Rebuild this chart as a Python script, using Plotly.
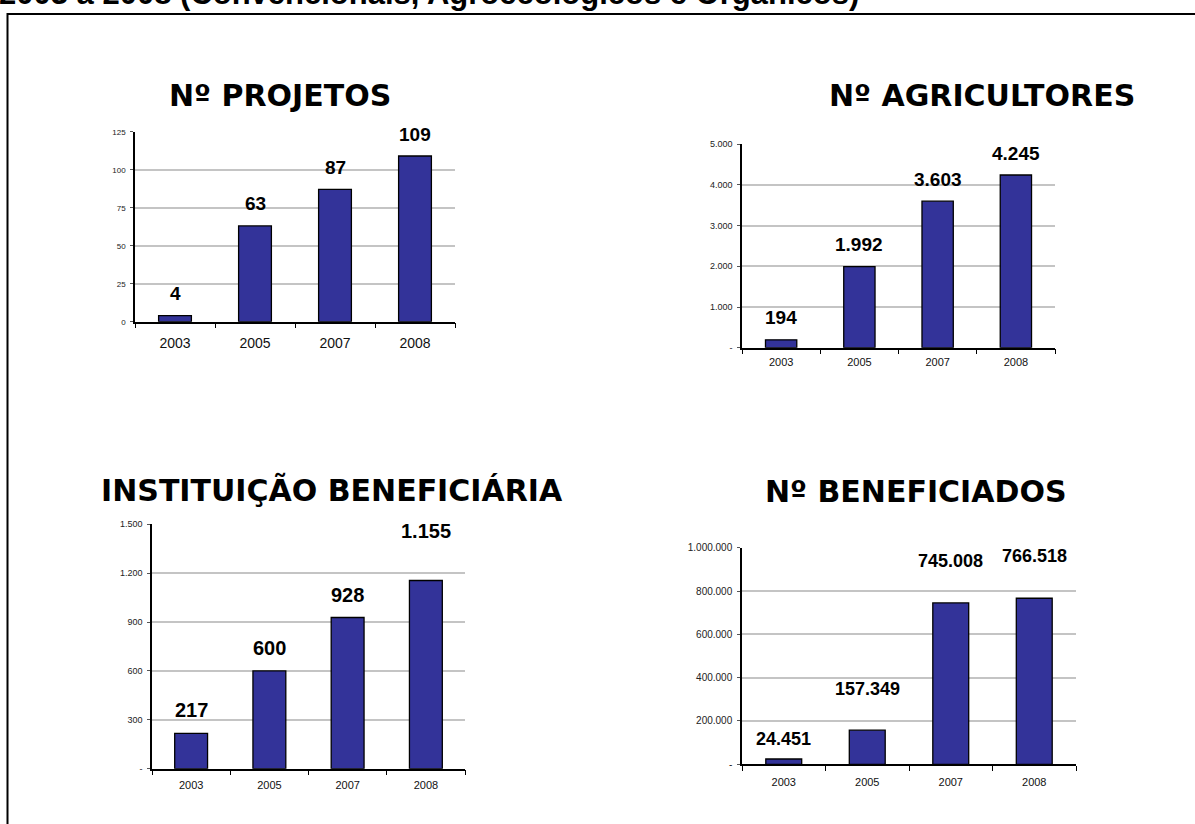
import plotly.graph_objects as go

W, H = 1195, 824

years = ["2003", "2005", "2007", "2008"]
projetos = [4, 63, 87, 109]
agricultores = [194, 1992, 3603, 4245]
instituicoes = [217, 600, 928, 1155]
beneficiados = [24451, 157349, 745008, 766518]

titles = ["Nº PROJETOS", "Nº AGRICULTORES", "INSTITUIÇÃO BENEFICIÁRIA", "Nº BENEFICIADOS"]
top_title = "2003 a 2008 (Convencionais, Agroecológicos e Orgânicos)"

yticks_proj = [0, 25, 50, 75, 100, 125]
yticktext_proj = ["0", "25", "50", "75", "100", "125"]
yticks_agri = [0, 1000, 2000, 3000, 4000, 5000]
yticktext_agri = ["-", "1.000", "2.000", "3.000", "4.000", "5.000"]
yticks_inst = [0, 300, 600, 900, 1200, 1500]
yticktext_inst = ["-", "300", "600", "900", "1.200", "1.500"]
yticks_benef = [0, 200000, 400000, 600000, 800000, 1000000]
yticktext_benef = ["-", "200.000", "400.000", "600.000", "800.000", "1.000.000"]


def fmt(v):
    return f"{v:,}".replace(",", ".")


def px(x):
    return x / W


def py(y):
    return 1 - y / H


# layout / style configuration per panel (pixel geometry of the reference)
panels = [
    dict(values=projetos, tv=yticks_proj, tt=yticktext_proj, title=titles[0],
         x0=135, x1=455, ytop=131.7, ybot=321.7, bw=0.41,
         title_x=280, title_y=95, title_size=30,
         lab_size=19, shifts=[22, 22, 22, 22], xt_size=14, yt_size=8, xt_stand=8),
    dict(values=agricultores, tv=yticks_agri, tt=yticktext_agri, title=titles[1],
         x0=742, x1=1055, ytop=144.3, ybot=347.7, bw=0.40,
         title_x=982, title_y=95, title_size=30,
         lab_size=19, shifts=[22, 22, 22, 22], xt_size=11, yt_size=9, xt_stand=3),
    dict(values=instituicoes, tv=yticks_inst, tt=yticktext_inst, title=titles[2],
         x0=152, x1=465, ytop=524.3, ybot=768.7, bw=0.42,
         title_x=332, title_y=490, title_size=30,
         lab_size=20, shifts=[23, 23, 23, 50], xt_size=11, yt_size=9, xt_stand=5),
    dict(values=beneficiados, tv=yticks_benef, tt=yticktext_benef, title=titles[3],
         x0=742, x1=1076, ytop=547.7, ybot=764.3, bw=0.43,
         title_x=916, title_y=492, title_size=30,
         lab_size=18, shifts=[20, 41, 42, 42], xt_size=11, yt_size=10, xt_stand=7),
]

fig = go.Figure()
annotations = []
layout_axes = {}

for i, p in enumerate(panels, start=1):
    xa = "x" if i == 1 else f"x{i}"
    ya = "y" if i == 1 else f"y{i}"
    fig.add_trace(go.Bar(
        x=years, y=p["values"], xaxis=xa, yaxis=ya, width=p["bw"],
        marker=dict(color="#333399", line=dict(color="black", width=1.3)),
        showlegend=False, hoverinfo="x+y",
    ))
    xkey = "xaxis" if i == 1 else f"xaxis{i}"
    ykey = "yaxis" if i == 1 else f"yaxis{i}"
    layout_axes[xkey] = dict(
        domain=[px(p["x0"]), px(p["x1"])], anchor=ya, type="category",
        range=[-0.5, len(years) - 0.5],
        showgrid=False, zeroline=False, showline=True, linecolor="black", linewidth=1.5,
        ticks="outside", tickson="boundaries", ticklen=5, tickcolor="black", tickwidth=1.2,
        tickfont=dict(family="Liberation Sans, Arial", size=p["xt_size"], color="#111"),
        ticklabelstandoff=p["xt_stand"], tickangle=0, fixedrange=True,
    )
    layout_axes[ykey] = dict(
        domain=[py(p["ybot"]), py(p["ytop"])], anchor=xa, range=[0, p["tv"][-1]],
        tickvals=p["tv"], ticktext=p["tt"],
        showgrid=True, gridcolor="#c4c4c4", gridwidth=1.5, zeroline=False,
        showline=True, linecolor="black", linewidth=1.5,
        ticks="outside", ticklen=3, tickcolor="#555", tickwidth=1,
        tickfont=dict(family="Liberation Sans, Arial", size=p["yt_size"], color="#222"),
        ticklabelstandoff=3, fixedrange=True,
    )
    for k, (v, s) in enumerate(zip(p["values"], p["shifts"])):
        annotations.append(dict(
            xref=xa, yref=ya, x=k, y=v, text=f"<b>{fmt(v)}</b>", showarrow=False,
            yanchor="middle", yshift=s,
            font=dict(family="Liberation Sans, Arial", size=p["lab_size"], color="black"),
        ))
    annotations.append(dict(
        xref="paper", yref="paper", x=px(p["title_x"]), y=py(p["title_y"]),
        text=f"<b>{p['title']}</b>", showarrow=False, xanchor="center", yanchor="middle",
        font=dict(family="DejaVu Sans, Verdana", size=p["title_size"], color="black"),
    ))

annotations.append(dict(
    xref="paper", yref="paper", x=px(-3), y=py(13), xanchor="left", yanchor="bottom",
    text=f"<b>{top_title}</b>", showarrow=False,
    font=dict(family="Liberation Sans, Arial", size=31, color="black"),
))

fig.update_layout(
    width=W, height=H, margin=dict(l=0, r=0, t=0, b=0, autoexpand=False),
    paper_bgcolor="white", plot_bgcolor="white",
    annotations=annotations,
    shapes=[dict(type="rect", xref="paper", yref="paper",
                 x0=px(7.5), x1=px(1215), y0=py(845), y1=py(14),
                 line=dict(color="black", width=2), fillcolor="rgba(0,0,0,0)", layer="above")],
    **layout_axes,
)

fig.write_html("out.html", config={"displayModeBar": False},
               post_script="document.body.style.margin='0';")
